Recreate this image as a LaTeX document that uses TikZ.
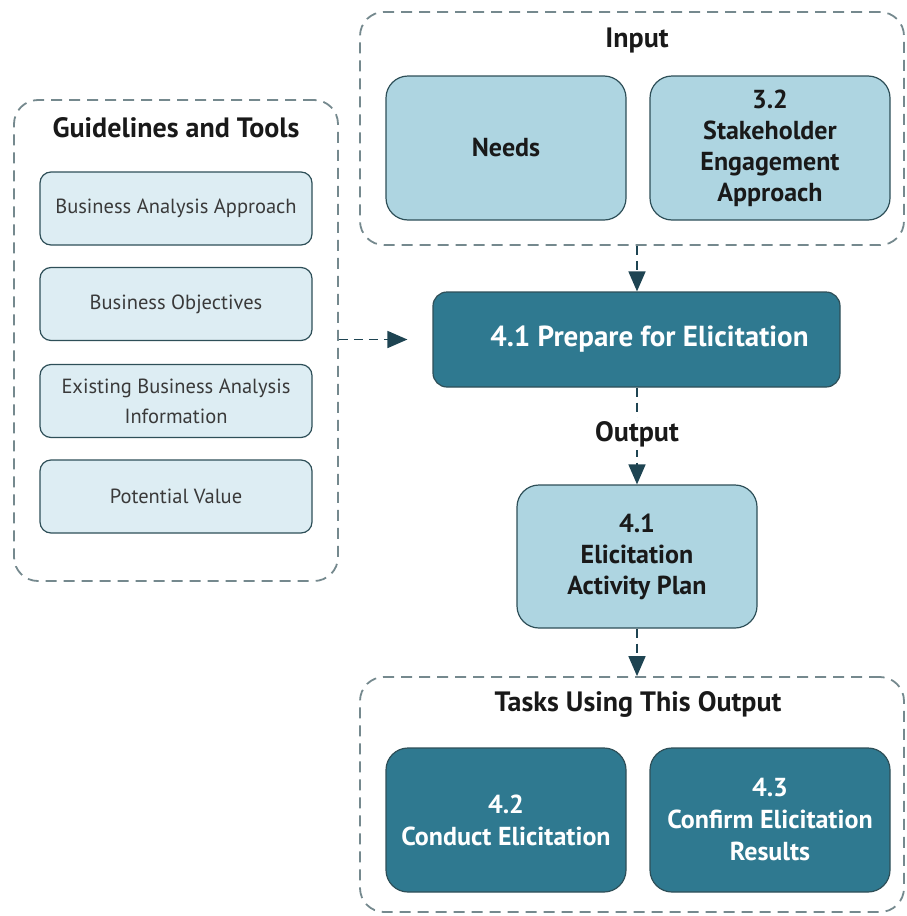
\documentclass[tikz,border=0pt]{standalone}
\usepackage{fontspec}
\setmainfont{PT Sans}
\usetikzlibrary{arrows.meta}
\definecolor{lightbox}{HTML}{AED5E1}
\definecolor{paleblue}{HTML}{DDEDF3}
\definecolor{darkteal}{HTML}{2F7990}
\definecolor{edgecol}{HTML}{2E4F58}
\definecolor{dashcol}{HTML}{75898E}
\definecolor{arrowcol}{HTML}{1E4452}
\definecolor{guidetext}{HTML}{3A3A3A}
\tikzset{
  container/.style={draw=dashcol, line width=1.8pt, dash pattern=on 11pt off 7pt, rounded corners=24pt},
  titletext/.style={font=\bfseries\fontsize{28}{32}\selectfont, text=black!90},
  guidebox/.style={draw=edgecol, line width=1.2pt, fill=paleblue, rounded corners=11pt, minimum width=272pt, minimum height=73pt, align=center, text=guidetext, font=\fontsize{20.5}{30}\selectfont},
  lightnode/.style={draw=edgecol, line width=1.2pt, fill=lightbox, rounded corners=22pt, minimum width=240pt, minimum height=144pt, align=center, text=black!90, font=\bfseries\fontsize{26}{31}\selectfont},
  darknode/.style={draw=edgecol, line width=1.2pt, fill=darkteal, rounded corners=22pt, minimum width=240pt, minimum height=144pt, align=center, text=white, font=\bfseries\fontsize{26}{32}\selectfont},
  flow/.style={draw=arrowcol, line width=1.7pt, dash pattern=on 9pt off 6pt, -{Triangle[length=20pt,width=17pt]}},
}
\begin{document}
\begin{tikzpicture}[x=1pt,y=-1pt]
\useasboundingbox (0,0) rectangle (907,916);
% containers
\node[container, minimum width=324pt, minimum height=481pt] (guide) at (176,340.5) {};
\node[container, minimum width=544pt, minimum height=233pt] (input) at (632,128.5) {};
\node[container, minimum width=544pt, minimum height=235pt] (tasks) at (632,794.5) {};
% titles
\node[titletext] (guidetitle) at (176,128) {Guidelines and Tools};
\node[titletext] (inputtitle) at (637,40) {Input};
\node[titletext] (taskstitle) at (638,704) {Tasks Using This Output};
% guideline boxes
\node[guidebox] (g1) at (176,208.5) {Business Analysis Approach};
\node[guidebox] (g2) at (176,304) {Business Objectives};
\node[guidebox] (g3) at (176,401) {Existing Business Analysis\\Information};
\node[guidebox] (g4) at (176,496.5) {Potential Value};
% inputs
\node[lightnode] (needs) at (506,148) {Needs};
\node[lightnode] (stake) at (770,148) {3.2\\Stakeholder\\Engagement\\Approach};
% main task
\node[darknode, minimum width=407pt, minimum height=95pt, rounded corners=14pt, font=\bfseries\fontsize{29}{34}\selectfont] (prep) at (636.5,339.5) {\hspace*{26pt}4.1 Prepare for Elicitation};
% output
\node[lightnode, minimum height=143pt] (plan) at (637,556.5) {4.1\\Elicitation\\Activity Plan};
% tasks
\node[darknode] (conduct) at (506,820) {4.2\\Conduct Elicitation};
\node[darknode] (confirm) at (770,820) {4.3\\Confirm Elicitation\\Results};
% connectors
\draw[flow] (guide.east |- prep.west) -- ([xshift=-25pt]prep.west);
\draw[flow] (input.south -| 637,0) -- (prep.north -| 637,0);
\draw[flow] (prep.south -| plan.north) -- (plan.north) node[pos=0.48, fill=white, inner sep=3pt, titletext] (outlabel) {Output};
\draw[flow] (plan.south) -- (tasks.north -| plan.south);
\end{tikzpicture}
\end{document}
